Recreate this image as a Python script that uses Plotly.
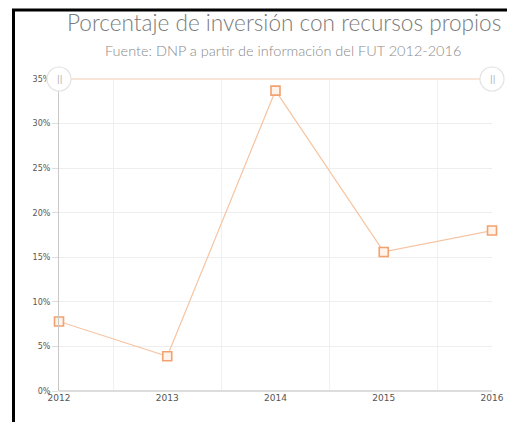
import plotly.graph_objects as go

years = [2012, 2013, 2014, 2015, 2016]
year_labels = ["2012", "2013", "2014", "2015", "2016"]
values = [7.8, 3.9, 33.7, 15.6, 18.0]
y_ticks = [0, 5, 10, 15, 20, 25, 30, 35]
y_labels = ["0%", "5%", "10%", "15%", "20%", "25%", "30%", "35%"]

title_text = "Porcentaje de inversión con recursos propios"
subtitle_text = "Fuente: DNP a partir de información del FUT 2012-2016"

OFF = 8  # page body margin
W, H = 515 - OFF, 422 - OFF
L, R, T, B = 59 - OFF, 23, 79 - OFF, 31
pw, ph = W - L - R, H - T - B


def px(x):
    return (x - OFF - L) / pw


def py(y):
    return (H - B - (y - OFF)) / ph


fig = go.Figure()
fig.add_trace(go.Scatter(
    x=years, y=values, mode="lines+markers",
    line=dict(color="#f6c4a2", width=1.2),
    marker=dict(symbol="square", size=9, color="#fff3ea",
                line=dict(color="#f2a170", width=1.6)),
    cliponaxis=False, showlegend=False, hoverinfo="x+y",
))

shapes = [
    dict(type="line", xref="paper", yref="paper", x0=0, x1=1, y0=1, y1=1,
         line=dict(color="#f6dccb", width=1.5), layer="above"),
]
for xp in (0, 1):
    shapes.append(dict(type="circle", xref="paper", yref="paper", xsizemode="pixel", ysizemode="pixel",
                       xanchor=xp, yanchor=1, x0=-12, x1=12, y0=-12, y1=12,
                       fillcolor="white", line=dict(color="#e3e3e3", width=1.2), layer="above"))
# frame border (left + top)
shapes.append(dict(type="line", xref="paper", yref="paper", x0=px(13.5), x1=px(13.5),
                   y0=py(9), y1=py(430), line=dict(color="black", width=3)))
shapes.append(dict(type="line", xref="paper", yref="paper", x0=px(12), x1=px(514),
                   y0=py(10), y1=py(10), line=dict(color="black", width=3)))

annotations = [
    dict(text=title_text, x=px(284), y=py(23), xref="paper", yref="paper", showarrow=False,
         font=dict(family="Lato, sans-serif", size=22.6, color="#7a7a7a", weight=300),
         xanchor="center", yanchor="middle"),
    dict(text=subtitle_text, x=px(283), y=py(50), xref="paper", yref="paper", showarrow=False,
         font=dict(family="Lato, sans-serif", size=14.5, color="#8a8a8a", weight=300),
         xanchor="center", yanchor="middle"),
]
for xp in (0, 1):
    annotations.append(dict(text="||", x=xp, y=1, xref="paper", yref="paper", showarrow=False,
                            font=dict(family="DejaVu Sans", size=8, color="#aaaaaa"),
                            xanchor="center", yanchor="middle"))

fig.update_layout(
    width=W, height=H, margin=dict(l=L, r=R, t=T, b=B),
    paper_bgcolor="white", plot_bgcolor="white",
    shapes=shapes, annotations=annotations,
    xaxis=dict(range=[years[0], years[-1]], tickvals=years, ticktext=year_labels,
               showgrid=False, zeroline=False, showline=False, ticks="",
               tickfont=dict(family="DejaVu Sans", size=9, color="#555555"),
               minor=dict(tickvals=[2012.5, 2013.5, 2014.5, 2015.5], showgrid=True,
                          gridcolor="#f0f0f0", gridwidth=1)),
    yaxis=dict(range=[0, 35], tickvals=y_ticks, ticktext=y_labels,
               showgrid=True, gridcolor="#eeeeee", zeroline=True, zerolinecolor="#dddddd",
               showline=True, linecolor="#c8c8c8", linewidth=1,
               ticks="outside", ticklen=6, tickcolor="#dddddd",
               tickfont=dict(family="DejaVu Sans", size=8, color="#555555")),
)

fig.write_html("out.html")
